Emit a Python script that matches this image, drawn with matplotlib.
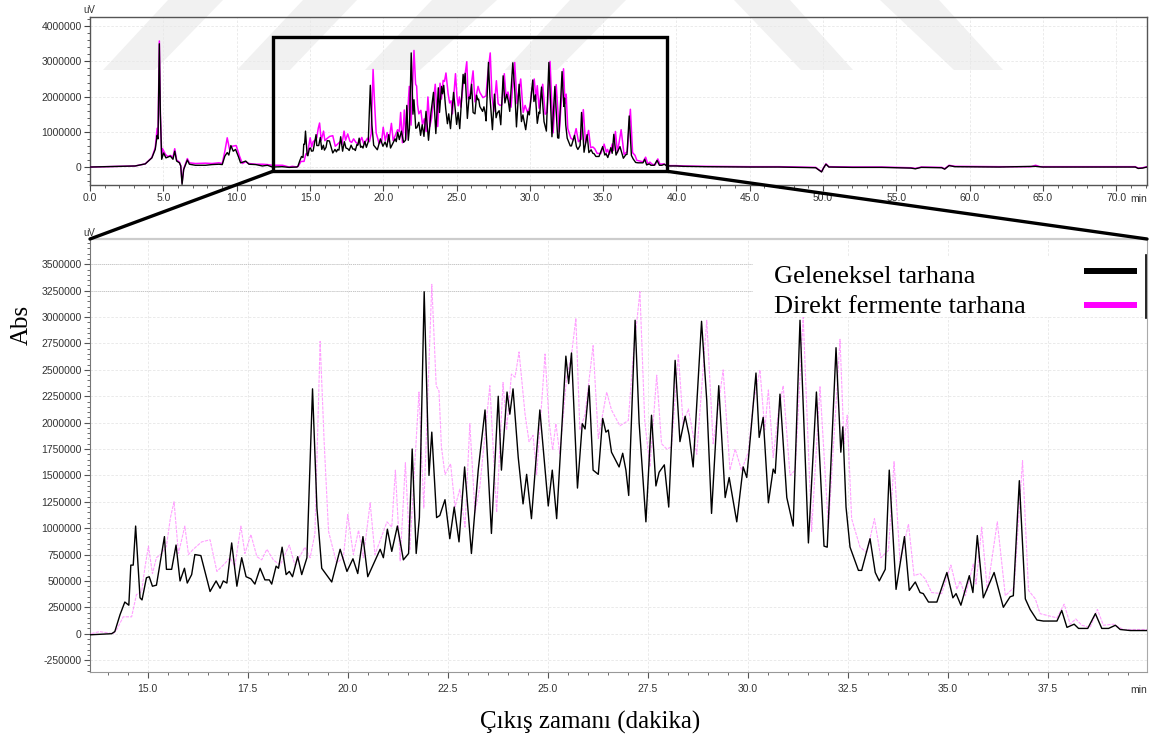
import matplotlib
matplotlib.use("Agg")
import matplotlib.pyplot as plt
from matplotlib.patches import Rectangle, Polygon, ConnectionPatch
from matplotlib.lines import Line2D
from matplotlib.ticker import MultipleLocator, FuncFormatter

# ---------------- data (retention time in min, signal in million uV) ----------------
t_black = [0.0, 3.08, 3.77, 4.22, 4.45, 4.58, 4.64, 4.73, 4.80, 4.89, 5.02, 5.18, 5.48, 5.66, 5.78,
           5.91, 6.10, 6.19, 6.28, 6.39, 6.50, 6.64, 6.78, 7.19, 7.88, 8.33, 8.79, 9.02, 9.20, 9.36,
           9.47, 9.61, 9.77, 9.93, 10.11, 10.27, 10.43, 10.62, 10.84, 11.30, 11.76, 12.10, 12.44, 13.13,
           13.58, 14.10, 14.18, 14.31, 14.43, 14.53, 14.58, 14.64, 14.70, 14.81, 14.86, 14.97, 15.04,
           15.12, 15.22, 15.35, 15.42, 15.47, 15.60, 15.71, 15.81, 15.92, 15.99, 16.10, 16.18, 16.33,
           16.56, 16.71, 16.81, 16.89, 16.98, 17.10, 17.23, 17.35, 17.46, 17.58, 17.68, 17.81, 17.93,
           18.04, 18.10, 18.21, 18.27, 18.36, 18.46, 18.54, 18.62, 18.75, 18.85, 18.98, 19.12, 19.23,
           19.35, 19.60, 19.81, 19.98, 20.13, 20.25, 20.38, 20.50, 20.81, 20.89, 20.99, 21.10, 21.24,
           21.39, 21.52, 21.61, 21.71, 21.79, 21.91, 22.03, 22.10, 22.22, 22.30, 22.43, 22.55, 22.66,
           22.78, 22.92, 23.09, 23.26, 23.43, 23.59, 23.76, 23.84, 23.98, 24.05, 24.13, 24.26, 24.38,
           24.47, 24.59, 24.80, 25.01, 25.11, 25.22, 25.45, 25.52, 25.59, 25.74, 25.86, 25.93, 26.03,
           26.13, 26.26, 26.37, 26.45, 26.51, 26.59, 26.78, 26.87, 26.95, 27.02, 27.18, 27.28, 27.45,
           27.59, 27.70, 27.78, 27.91, 28.02, 28.18, 28.30, 28.43, 28.53, 28.63, 28.84, 28.97, 29.09,
           29.27, 29.43, 29.53, 29.72, 29.88, 29.97, 30.09, 30.20, 30.28, 30.38, 30.51, 30.63, 30.68,
           30.80, 30.97, 31.13, 31.30, 31.51, 31.71, 31.90, 31.98, 32.20, 32.32, 32.37, 32.45, 32.55,
           32.76, 32.84, 33.05, 33.18, 33.28, 33.43, 33.53, 33.70, 33.91, 34.03, 34.18, 34.30, 34.38,
           34.51, 34.72, 34.97, 35.12, 35.20, 35.32, 35.53, 35.62, 35.73, 35.88, 36.15, 36.38, 36.55,
           36.63, 36.78, 36.93, 37.05, 37.22, 37.38, 37.72, 37.84, 37.97, 38.15, 38.26, 38.49, 38.68,
           38.84, 39.01, 39.18, 39.30, 39.55, 39.97, 40.5, 42.0, 45.0, 47.0, 49.5, 49.9, 50.05, 50.2,
           50.4, 52.0, 54.0, 56.0, 56.3, 56.7, 58.1, 58.3, 58.6, 59.0, 62.0, 64.5, 65.0, 70.0, 71.3,
           71.5, 71.8, 72.1]
y_black = [0.0, 0.03, 0.09, 0.26, 0.50, 0.90, 0.80, 3.50, 1.50, 0.22, 0.40, 0.26, 0.31, 0.22, 0.45,
           0.17, 0.12, 0.03, -0.49, -0.07, 0.05, 0.20, 0.08, 0.05, 0.05, 0.07, 0.08, 0.07, 0.31, 0.41,
           0.34, 0.61, 0.45, 0.50, 0.31, 0.12, 0.14, 0.17, 0.08, 0.07, 0.03, 0.05, 0.00, 0.01,
           -0.01, 0.00, 0.02, 0.18, 0.30, 0.27, 0.65, 0.65, 1.02, 0.34, 0.32, 0.53, 0.54,
           0.45, 0.46, 0.76, 0.92, 0.61, 0.61, 0.84, 0.50, 0.62, 0.48, 0.56, 0.75, 0.74,
           0.40, 0.50, 0.43, 0.50, 0.48, 0.86, 0.45, 0.72, 0.54, 0.52, 0.47, 0.62, 0.51,
           0.51, 0.47, 0.64, 0.62, 0.82, 0.56, 0.59, 0.54, 0.73, 0.56, 0.72, 2.32, 1.19,
           0.62, 0.49, 0.80, 0.59, 0.71, 0.57, 0.92, 0.54, 0.80, 0.72, 0.99, 0.78, 1.02,
           0.70, 0.76, 1.75, 0.76, 1.10, 3.24, 1.50, 1.91, 1.10, 1.12, 1.27, 0.90, 1.20,
           0.87, 1.58, 0.76, 1.55, 2.12, 0.95, 2.25, 1.55, 2.29, 2.08, 2.32, 1.67, 1.23,
           1.51, 1.09, 2.12, 1.21, 1.55, 1.09, 2.63, 2.37, 2.66, 1.38, 1.99, 1.94, 2.35,
           1.55, 1.51, 2.04, 1.91, 1.93, 1.72, 1.58, 1.71, 1.55, 1.31, 2.97, 2.00, 1.06,
           2.07, 1.40, 1.53, 1.60, 1.20, 2.59, 1.82, 2.06, 1.88, 1.58, 2.96, 2.21, 1.14,
           2.35, 1.29, 1.48, 1.06, 1.58, 1.48, 1.99, 2.47, 1.86, 2.05, 1.24, 1.56, 1.52,
           2.27, 1.29, 1.02, 2.97, 0.86, 2.29, 0.83, 0.82, 2.71, 1.72, 1.96, 1.20, 0.82,
           0.60, 0.60, 0.90, 0.58, 0.50, 0.61, 1.55, 0.42, 0.92, 0.41, 0.49, 0.39, 0.38,
           0.30, 0.30, 0.58, 0.34, 0.38, 0.27, 0.55, 0.39, 0.93, 0.34, 0.58, 0.25, 0.35,
           0.36, 1.45, 0.33, 0.23, 0.13, 0.12, 0.12, 0.22, 0.06, 0.09, 0.05, 0.05, 0.19,
           0.05, 0.05, 0.08, 0.04, 0.03, 0.03, 0.02, 0.01, 0.00, 0.00, -0.02, -0.14, -0.02, 0.08,
           0.00, -0.01, -0.01, -0.03, -0.05, -0.01, -0.02, -0.06, 0.04, 0.01, 0.00, 0.02, 0.00, 0.00, 0.00,
           -0.04, -0.03, 0.00]

t_magenta = [0.0, 3.08, 3.77, 4.22, 4.45, 4.58, 4.64, 4.73, 4.80, 4.89, 4.95, 5.14, 5.30, 5.48, 5.66,
             5.78, 5.91, 6.10, 6.19, 6.28, 6.39, 6.50, 6.64, 6.78, 7.19, 7.88, 8.33, 8.79, 9.02, 9.20,
             9.36, 9.52, 9.70, 9.97, 10.20, 10.39, 10.62, 10.84, 11.30, 11.76, 12.10, 12.44, 13.13,
             13.58, 13.80, 14.14, 14.23, 14.39, 14.60, 14.72, 14.85, 14.93, 15.02, 15.12, 15.22, 15.35,
             15.47, 15.57, 15.66, 15.77, 15.93, 16.02, 16.14, 16.35, 16.56, 16.73, 16.89, 17.06, 17.18,
             17.33, 17.43, 17.58, 17.73, 17.85, 17.98, 18.14, 18.31, 18.54, 18.68, 18.93, 19.06, 19.18,
             19.31, 19.41, 19.52, 19.72, 19.89, 20.00, 20.14, 20.27, 20.39, 20.56, 20.68, 20.98, 21.10,
             21.19, 21.31, 21.44, 21.55, 21.78, 21.90, 22.10, 22.21, 22.28, 22.34, 22.43, 22.57, 22.68,
             22.80, 22.93, 23.05, 23.18, 23.30, 23.43, 23.55, 23.72, 23.88, 23.97, 24.09, 24.18, 24.28,
             24.43, 24.53, 24.63, 24.72, 24.93, 25.03, 25.12, 25.20, 25.30, 25.47, 25.59, 25.70, 25.80,
             25.93, 26.13, 26.26, 26.47, 26.59, 26.80, 27.01, 27.13, 27.30, 27.42, 27.55, 27.72, 27.84,
             27.97, 28.09, 28.26, 28.38, 28.51, 28.72, 28.97, 29.13, 29.38, 29.55, 29.68, 29.84, 30.01,
             30.13, 30.30, 30.42, 30.51, 30.63, 30.76, 30.88, 31.05, 31.18, 31.38, 31.59, 31.80, 32.01,
             32.30, 32.40, 32.48, 32.59, 32.80, 32.97, 33.16, 33.32, 33.51, 33.65, 33.80, 34.01, 34.15,
             34.30, 34.43, 34.59, 34.84, 35.07, 35.22, 35.30, 35.43, 35.63, 35.70, 35.84, 35.98, 36.23,
             36.43, 36.65, 36.86, 37.01, 37.18, 37.30, 37.72, 37.90, 38.05, 38.19, 38.34, 38.55, 38.73,
             38.88, 39.13, 39.38, 39.97, 40.5, 42.0, 45.0, 47.0, 49.5, 49.9, 50.05, 50.2, 50.4, 52.0,
             54.0, 56.0, 56.3, 56.7, 58.1, 58.3, 58.6, 59.0, 62.0, 64.2, 64.5, 64.8, 70.0, 71.3, 71.5,
             71.8, 72.1]
y_magenta = [0.0, 0.03, 0.09, 0.27, 0.55, 1.10, 0.90, 3.58, 1.50, 0.35, 0.52, 0.36, 0.30, 0.33, 0.28,
             0.52, 0.20, 0.14, 0.04, -0.45, -0.05, 0.08, 0.24, 0.12, 0.10, 0.11, 0.10, 0.12, 0.10, 0.45,
             0.83, 0.50, 0.59, 0.61, 0.31, 0.10, 0.15, 0.10, 0.08, 0.08, 0.07, 0.05, 0.05,
             0.00, 0.02, 0.00, 0.04, 0.16, 0.16, 0.37, 0.40, 0.62, 0.83, 0.57, 0.72, 0.76,
             0.83, 1.10, 1.25, 0.76, 1.02, 0.75, 0.80, 0.87, 0.89, 0.59, 0.65, 0.72, 0.64,
             1.02, 0.76, 0.94, 0.73, 0.70, 0.80, 0.70, 0.65, 0.84, 0.65, 0.82, 0.72, 0.95,
             2.77, 1.82, 0.97, 0.67, 0.72, 1.13, 0.75, 0.98, 0.72, 1.24, 0.75, 1.06, 1.01,
             1.55, 0.69, 1.62, 0.79, 2.29, 1.19, 3.31, 2.35, 2.30, 1.77, 1.51, 1.61, 1.20,
             1.37, 1.01, 1.99, 1.15, 1.39, 1.89, 2.35, 1.15, 2.38, 1.93, 2.46, 2.43, 2.67,
             2.08, 1.82, 1.88, 1.51, 2.65, 2.01, 1.74, 1.99, 1.70, 2.43, 2.64, 2.99, 1.93,
             2.08, 2.73, 1.85, 2.29, 2.12, 1.97, 2.02, 2.62, 3.24, 2.02, 1.58, 2.45, 1.80,
             1.75, 1.77, 2.65, 1.99, 2.13, 1.70, 2.97, 1.80, 2.50, 1.55, 1.75, 1.55, 1.72,
             2.18, 2.50, 1.93, 2.31, 1.67, 2.10, 2.35, 1.50, 1.55, 3.00, 0.97, 2.34, 1.00,
             2.79, 1.80, 2.07, 1.09, 0.82, 0.77, 1.09, 0.72, 0.79, 1.63, 0.68, 1.04, 0.55,
             0.57, 0.52, 0.39, 0.38, 0.65, 0.42, 0.50, 0.36, 0.66, 0.47, 1.01, 0.41, 1.06,
             0.36, 0.44, 1.64, 0.41, 0.33, 0.19, 0.15, 0.28, 0.09, 0.14, 0.08, 0.06, 0.23,
             0.08, 0.09, 0.04, 0.04, 0.03, 0.02, 0.01, 0.01, -0.01, -0.13, -0.01, 0.09, 0.01, 0.00,
             0.00, -0.02, -0.04, 0.00, -0.01, -0.05, 0.05, 0.02, 0.01, 0.01, 0.05, 0.01, 0.01, 0.01, -0.03,
             -0.02, 0.01]

series_names = ["Geleneksel tarhana", "Direkt fermente tarhana"]
top_xticks = [0, 5, 10, 15, 20, 25, 30, 35, 40, 45, 50, 55, 60, 65, 70]
top_yticks = [0, 1000000, 2000000, 3000000, 4000000]
bot_xticks = [15.0, 17.5, 20.0, 22.5, 25.0, 27.5, 30.0, 32.5, 35.0, 37.5]
bot_yticks = [-250000, 0, 250000, 500000, 750000, 1000000, 1250000, 1500000, 1750000, 2000000,
              2250000, 2500000, 2750000, 3000000, 3250000, 3500000]
zoom_window = (12.48, 39.36, -120000, 3700000)

yb = [v * 1e6 for v in y_black]
ym = [v * 1e6 for v in y_magenta]

W, H = 1155, 743
fig = plt.figure(figsize=(W / 100, H / 100), dpi=100, facecolor="white")

def fx(px):
    return px / W

def fy(py):
    return 1 - py / H

# watermark (faint diagonal bands)
bands = [
    [(103, 70), (155, 70), (223, 0), (168, 0)],
    [(237, 70), (290, 70), (357, 0), (303, 0)],
    [(365, 70), (420, 70), (497, 0), (432, 0)],
    [(505, 70), (557, 70), (626, 0), (570, 0)],
    [(734, 0), (790, 0), (853, 70), (801, 70)],
    [(880, 0), (939, 0), (1003, 70), (954, 70)],
]
for b in bands:
    fig.patches.append(Polygon([(fx(x), fy(y)) for x, y in b], closed=True,
                               transform=fig.transFigure, facecolor="#f1f1f1",
                               edgecolor="none", zorder=-5))

sans = "Liberation Sans"
serif = "Liberation Serif"
tick_col = "#333333"

# ---------------- top overview axes ----------------
ax1 = fig.add_axes([fx(90), fy(185), fx(1147) - fx(90), fy(17) - fy(185)])
ax1.set_facecolor("none")
ax1.plot(t_magenta, ym, color="#ff00ff", lw=1.1, zorder=3)
ax1.plot(t_black, yb, color="black", lw=1.0, zorder=4)
ax1.set_xlim(0, 72.1)
ax1.set_ylim(-510000, 4260000)
ax1.set_xticks(top_xticks)
ax1.set_xticklabels([f"{v:.1f}" for v in top_xticks])
ax1.set_yticks(top_yticks)
ax1.yaxis.set_major_formatter(FuncFormatter(lambda v, p: f"{v:.0f}"))
ax1.xaxis.set_minor_locator(MultipleLocator(1))
ax1.yaxis.set_minor_locator(MultipleLocator(200000))
ax1.grid(True, which="major", color="#e8e8e8", lw=0.6, linestyle=(0, (3, 2)))
ax1.tick_params(which="major", length=4, width=0.8, color="#444444", labelsize=7.5,
                labelcolor=tick_col, pad=2)
ax1.tick_params(which="minor", length=2.5, width=0.6, color="#444444")
for lbl in ax1.get_xticklabels() + ax1.get_yticklabels():
    lbl.set_fontfamily(sans)
for s in ax1.spines.values():
    s.set_color("#555555")
    s.set_linewidth(1.0)
ax1.annotate("min", xy=(1, 0), xycoords="axes fraction", xytext=(0, -6.5),
             textcoords="offset points", ha="right", va="top", fontsize=7.5,
             color=tick_col, family=sans)
fig.text(fx(89), fy(10), "uV", ha="center", va="center", fontsize=7, color=tick_col, family=sans)

x0, x1, y0, y1 = zoom_window
ax1.add_patch(Rectangle((x0, y0), x1 - x0, y1 - y0, fill=False, lw=2.4,
                        edgecolor="black", zorder=6))

# ---------------- bottom zoomed axes ----------------
ax2 = fig.add_axes([fx(90), fy(671.7), fx(1147) - fx(90), fy(239) - fy(671.7)])
ax2.plot(t_magenta, ym, color="#ff55ff", lw=0.8, alpha=0.55, linestyle=(0, (3, 1)), zorder=3)
ax2.plot(t_black, yb, color="black", lw=1.0, zorder=4)
ax2.set_xlim(13.56, 39.97)
ax2.set_ylim(-360000, 3740000)
ax2.set_xticks(bot_xticks)
ax2.set_xticklabels([f"{v:.1f}" for v in bot_xticks])
ax2.set_yticks(bot_yticks)
ax2.yaxis.set_major_formatter(FuncFormatter(lambda v, p: f"{v:.0f}"))
ax2.xaxis.set_minor_locator(MultipleLocator(0.5))
ax2.yaxis.set_minor_locator(MultipleLocator(50000))
ax2.grid(True, which="major", color="#e6e6e6", lw=0.6, linestyle=(0, (3, 2)))
ax2.tick_params(which="major", length=4, width=0.8, color="#555555", labelsize=7.5,
                labelcolor=tick_col, pad=2)
ax2.tick_params(axis="x", which="major", pad=5)
ax2.tick_params(which="minor", length=2.5, width=0.6, color="#555555")
for lbl in ax2.get_xticklabels() + ax2.get_yticklabels():
    lbl.set_fontfamily(sans)
ax2.spines["left"].set_color("#777777")
ax2.spines["bottom"].set_color("#999999")
ax2.spines["right"].set_color("#aaaaaa")
ax2.spines["top"].set_color("#cccccc")
ax2.spines["top"].set_linewidth(1.6)
ax2.annotate("min", xy=(1, 0), xycoords="axes fraction", xytext=(0, -9.5),
             textcoords="offset points", ha="right", va="top", fontsize=7.5,
             color=tick_col, family=sans)
fig.text(fx(89), fy(233), "uV", ha="center", va="center", fontsize=7, color=tick_col, family=sans)

# darker dotted gridlines at top-left area
lim_frac = (753 - 90) / (1147 - 90)
for lv in (3500000, 3250000):
    ax2.axhline(lv, xmin=0, xmax=lim_frac, color="#c4c4c4", lw=0.7, linestyle=(0, (1, 1)), zorder=2)

# legend block
ax2.add_patch(Rectangle((lim_frac, 0.820), 0.999 - lim_frac, 0.141, transform=ax2.transAxes,
                        facecolor="white", edgecolor="none", zorder=5))
ax2.add_line(Line2D([0.999, 0.999], [0.818, 0.962], transform=ax2.transAxes,
                    color="black", lw=1.2, zorder=6))
ax2.text((774 - 90) / 1057, 0.899, series_names[0], transform=ax2.transAxes, fontsize=19,
         family=serif, ha="left", va="baseline", zorder=7)
ax2.text((774 - 90) / 1057, 0.830, series_names[1], transform=ax2.transAxes, fontsize=19,
         family=serif, ha="left", va="baseline", zorder=7)
ax2.add_line(Line2D([0.940, 0.991], [0.926, 0.926], transform=ax2.transAxes,
                    color="black", lw=4.3, solid_capstyle="butt", zorder=7))
ax2.add_line(Line2D([0.940, 0.991], [0.848, 0.848], transform=ax2.transAxes,
                    color="#ff00ff", lw=4.3, solid_capstyle="butt", zorder=7))

# connector lines from zoom window to bottom axes
for xa, xb in ((x0, 0), (x1, 1)):
    con = ConnectionPatch(xyA=(xa, y0), coordsA=ax1.transData,
                          xyB=(xb, 1), coordsB=ax2.transAxes,
                          color="black", lw=2.4)
    fig.add_artist(con)

# axis titles
fig.text(fx(22), fy(325), "Abs", rotation=90, ha="center", va="center", fontsize=18, family=serif)
fig.text(fx(590), fy(722), "Çıkış zamanı (dakika)", ha="center", va="center", fontsize=18, family=serif)

fig.savefig("out.png", dpi=100, facecolor="white")
